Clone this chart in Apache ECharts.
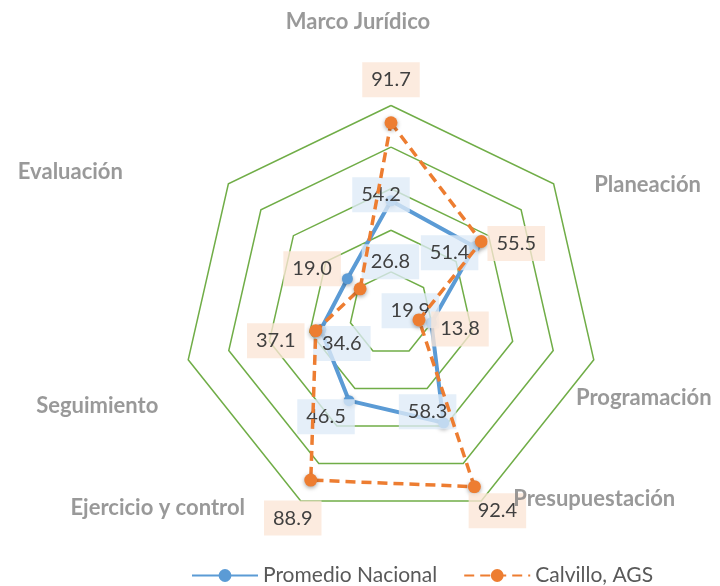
<!DOCTYPE html>
<html>
<head>
<meta charset="utf-8">
<script src="https://cdn.jsdelivr.net/npm/echarts@6/dist/echarts.min.js"></script>
<style>html,body{margin:0;padding:0;background:#fff}#c{width:720px;height:586px}</style>
</head>
<body>
<div id="c"></div>
<script>
// ---- data ----
const categories = ['Marco Jurídico', 'Planeación', 'Programación', 'Presupuestación', 'Ejercicio y control', 'Seguimiento', 'Evaluación'];
const seriesNames = ['Promedio Nacional', 'Calvillo, AGS'];
const promedioNacional = [54.2, 51.4, 19.9, 58.3, 46.5, 34.6, 26.8];
const calvillo = [91.7, 55.5, 13.8, 92.4, 88.9, 37.1, 19.0];
const scaleMax = 100;
const scaleInterval = 20;

// ---- layout (label nudges, px) ----
const blueLabelOffsets = [[-10, -6], [-25, 6], [-21, -12], [-16, -11], [-23, 16], [21, 14], [43, -17]];
const orangeLabelOffsets = [[0, -43], [35, 2], [41, 9], [23, 24], [-18, 38], [-40, 10], [-48, -20]];
const nameOffsets = [[-33, -84], [94, 1], [50, 38], [113, -2], [-143, 7], [-91, 46], [-158, -12]];

const CENTER = [391, 313.5];
const RADIUS = 208;
const FONT = 'Lato, "DejaVu Sans", sans-serif';

function buildLine(values, offsets) {
  const d = values.map((v, i) => ({ value: [v, i], label: { offset: offsets[i] } }));
  d.push({ value: [values[0], values.length], symbolSize: 0, label: { show: false } });
  return d;
}

const chart = echarts.init(document.getElementById('c'), null, { renderer: 'canvas' });
chart.setOption({
  animation: false,
  backgroundColor: '#ffffff',
  radar: {
    center: CENTER,
    radius: RADIUS,
    shape: 'polygon',
    splitNumber: scaleMax / scaleInterval,
    indicator: categories.map(() => ({ name: '', min: 0, max: scaleMax })),
    axisName: { show: false },
    axisLine: { show: false },
    axisTick: { show: false },
    axisLabel: { show: false },
    splitArea: { show: false },
    splitLine: { lineStyle: { color: '#70ad47', width: 1.5 } }
  },
  polar: { center: CENTER, radius: RADIUS },
  angleAxis: { type: 'value', min: 0, max: categories.length, startAngle: 90, clockwise: true, show: false },
  radiusAxis: { type: 'value', min: 0, max: scaleMax, show: false },
  legend: {
    data: seriesNames,
    left: 186,
    top: 560,
    itemWidth: 66,
    itemHeight: 16,
    itemGap: 26,
    textStyle: { fontFamily: FONT, fontSize: 21, color: '#595959' }
  },
  series: [
    {
      name: seriesNames[0],
      type: 'line',
      coordinateSystem: 'polar',
      data: buildLine(promedioNacional, blueLabelOffsets),
      symbol: 'circle',
      symbolSize: 11,
      itemStyle: { color: '#5b9bd5', shadowBlur: 4, shadowColor: 'rgba(0,0,0,0.35)', shadowOffsetY: 1.5 },
      lineStyle: { color: '#5b9bd5', width: 4 },
      z: 2,
      label: {
        show: true,
        position: 'inside',
        formatter: p => p.value[0].toFixed(1),
        fontFamily: FONT, fontSize: 20, color: '#404040',
        backgroundColor: 'rgba(222,235,247,0.78)',
        padding: [8, 9, 7, 9]
      }
    },
    {
      name: seriesNames[1],
      type: 'line',
      coordinateSystem: 'polar',
      data: buildLine(calvillo, orangeLabelOffsets),
      symbol: 'circle',
      symbolSize: 13,
      itemStyle: { color: '#ed7d31', shadowBlur: 4, shadowColor: 'rgba(0,0,0,0.35)', shadowOffsetY: 1.5 },
      lineStyle: { color: '#ed7d31', width: 3.5, type: [10, 6] },
      z: 3,
      label: {
        show: true,
        position: 'inside',
        formatter: p => p.value[0].toFixed(1),
        fontFamily: FONT, fontSize: 20, color: '#404040',
        backgroundColor: 'rgba(251,229,214,0.78)',
        padding: [8, 9, 7, 9]
      }
    },
    {
      name: 'ejes',
      type: 'scatter',
      coordinateSystem: 'polar',
      silent: true,
      symbolSize: 0,
      z: 4,
      data: categories.map((c, i) => ({ name: c, value: [scaleMax, i], label: { offset: nameOffsets[i] } })),
      label: {
        show: true,
        position: 'inside',
        formatter: '{b}',
        fontFamily: FONT, fontSize: 22, fontWeight: 'bold', color: '#7f7f7f'
      }
    }
  ]
});
</script>
</body>
</html>
